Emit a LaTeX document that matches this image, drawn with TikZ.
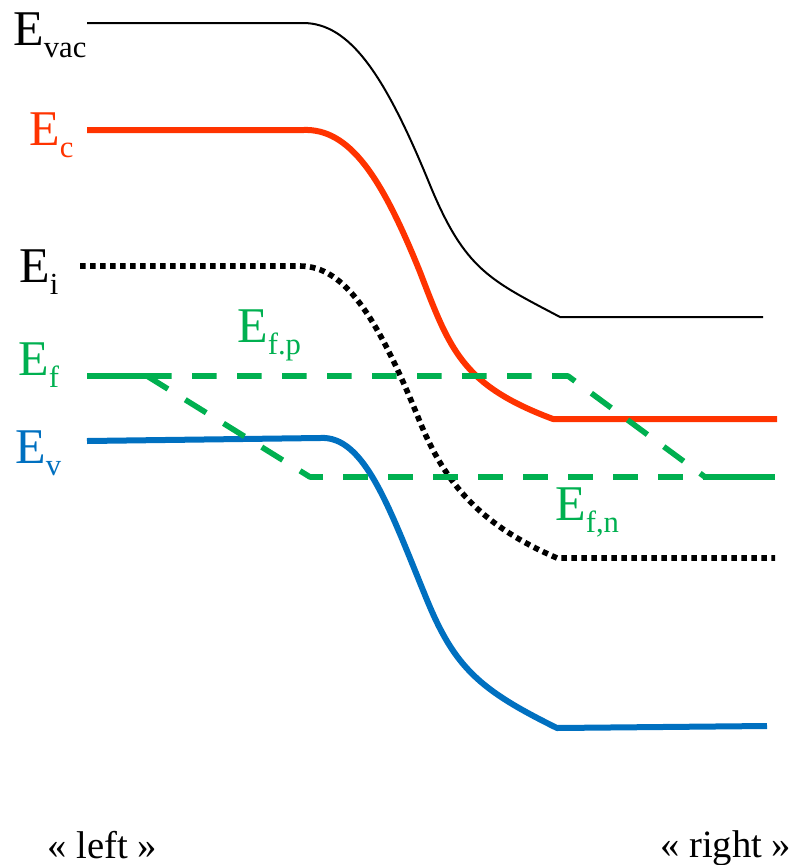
\documentclass[tikz,border=0pt]{standalone}
\usepackage{fontspec}
\setmainfont{Liberation Serif}
\definecolor{ecred}{HTML}{FF3300}
\definecolor{efgreen}{HTML}{00B050}
\definecolor{evblue}{HTML}{0070C0}
\newcommand\lvlsub[1]{\raisebox{-9pt}{\fontsize{23pt}{23pt}\selectfont #1}}
\tikzset{
  lbl/.style={anchor=base west, inner sep=0pt, font=\fontsize{37.5pt}{37.5pt}\selectfont},
  sidelbl/.style={anchor=base west, inner sep=0pt, font=\fontsize{29pt}{29pt}\selectfont},
  vacline/.style={black, line width=1.5pt},
  ecline/.style={ecred, line width=4.5pt},
  evline/.style={evblue, line width=4.5pt},
  eiline/.style={black, line width=4.2pt, dash pattern=on 4.2pt off 3.3pt},
  efsolid/.style={efgreen, line width=4.2pt},
  efdash/.style={efgreen, line width=4.2pt, dash pattern=on 18.5pt off 15.25pt},
}
\begin{document}
\begin{tikzpicture}[x=0.75pt, y=-0.75pt, line join=round]
\useasboundingbox (0,0) rectangle (796,865);

% E_vac
\draw[vacline] (87,23) -- (303,23)
  .. controls (350,23) and (385,75) .. (430,185)
  .. controls (465,270) and (490,280) .. (560,317)
  -- (763,317);

% E_c
\draw[ecline] (87,130) -- (303,130)
  .. controls (350,128) and (382,178) .. (420,272)
  .. controls (450,350) and (462,385) .. (553,419)
  -- (777,419);

% E_i
\draw[eiline] (80,266) -- (300,266)
  .. controls (345,266) and (378,318) .. (420,422)
  .. controls (445,483) and (480,525) .. (557,558)
  -- (775,558);

% E_v
\draw[evline] (87,441) -- (320,438)
  .. controls (365,435) and (390,510) .. (427,600)
  .. controls (455,668) and (480,690) .. (557,728)
  -- (767,726);

% Quasi Fermi levels
\coordinate (fl) at (87,376);
\coordinate (fs) at (147,376);
\coordinate (fpk) at (568,376);
\coordinate (fnk) at (310,477);
\coordinate (fr) at (705,477);
\coordinate (fe) at (775,477);
\draw[efsolid] (fl) -- (fs);
\draw[efdash] (fs) -- (fpk) -- (fr);
\draw[efdash] (fs) -- (fnk) -- (fr);
\draw[efsolid] (fr) -- (fe);

% labels
\node[lbl] (tvac) at (13,45) {E\lvlsub{vac}};
\node[lbl, text=ecred] (tc) at (29,145) {E\lvlsub{c}};
\node[lbl] (ti) at (19,282) {E\lvlsub{i}};
\node[lbl, text=efgreen] (tf) at (18,375) {E\lvlsub{f}};
\node[lbl, text=evblue] (tv) at (15,463) {E\lvlsub{v}};
\node[lbl, text=efgreen] (tfp) at (237,342) {E\lvlsub{f.p}};
\node[lbl, text=efgreen] (tfn) at (555,520) {E\lvlsub{f,n}};

\node[sidelbl] (tleft) at (47,858) {« left »};
\node[sidelbl] (tright) at (660,857) {« right »};
\end{tikzpicture}
\end{document}
